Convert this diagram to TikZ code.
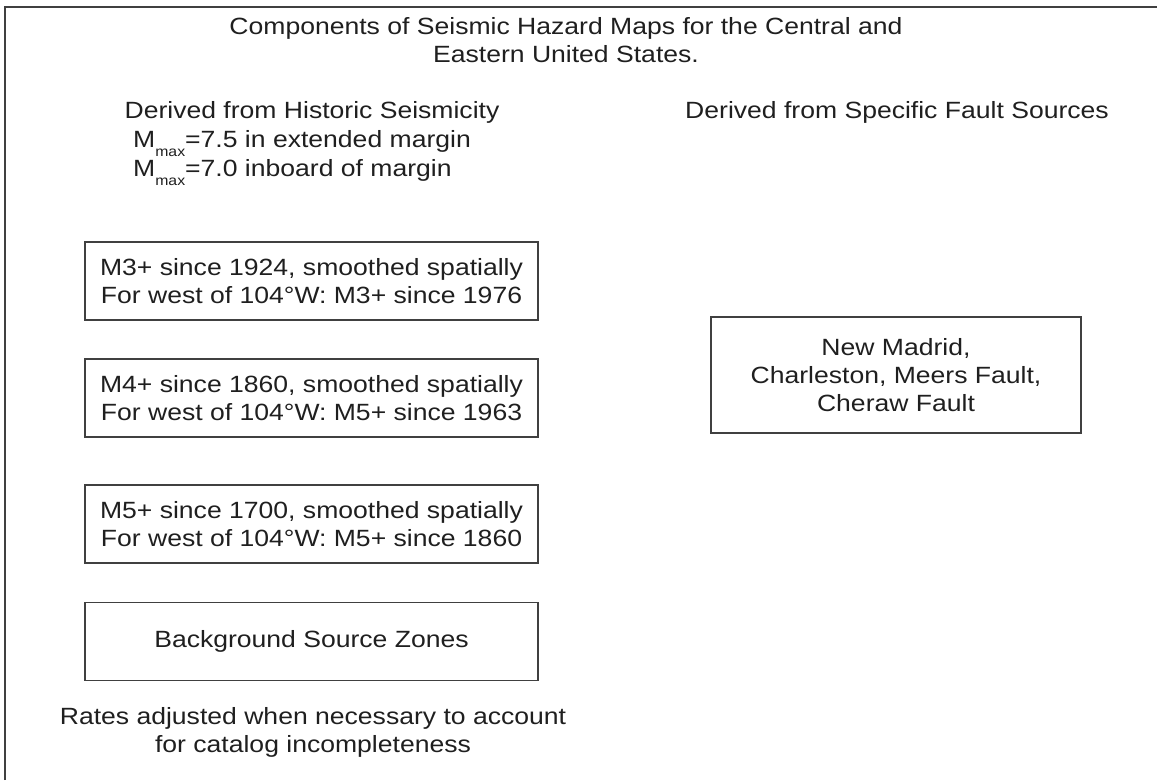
\documentclass[tikz,border=0pt]{standalone}
\usepackage{fontspec}
\setmainfont[FakeStretch=1.13]{Liberation Sans}
\tikzset{
  txt/.style={align=center, text=black!88, font=\fontsize{23.5}{28}\selectfont, inner sep=0pt},
  srcbox/.style={txt, draw=black!75, line width=1.2pt, minimum width=453pt, minimum height=78pt},
}
\newcommand{\Mmax}{M\raisebox{-0.4em}{\fontsize{14}{14}\selectfont max}}
\begin{document}
\begin{tikzpicture}[x=1pt,y=-1pt]
  \useasboundingbox (0,0) rectangle (1157,780);
  \draw[line width=1.2pt,black!75] (5,780) -- (5,7) -- (1157,7);

  \node[txt] (title) at (566,40) {Components of Seismic Hazard Maps for the Central and\\Eastern United States.};

  \node[txt] (hist) at (312,112) {Derived from Historic Seismicity};
  \node[txt] (fault) at (897,112) {Derived from Specific Fault Sources};
  \node[txt, align=left, anchor=west, font=\fontsize{23.5}{29}\selectfont] (mmax) at (133,158) {\Mmax=7.5 in extended margin\\\Mmax=7.0 inboard of margin};

  \node[srcbox] (m3) at (311.5,281) {M3+ since 1924, smoothed spatially\\For west of 104°W: M3+ since 1976};
  \node[srcbox] (m4) at (311.5,398) {M4+ since 1860, smoothed spatially\\For west of 104°W: M5+ since 1963};
  \node[srcbox] (m5) at (311.5,524) {M5+ since 1700, smoothed spatially\\For west of 104°W: M5+ since 1860};
  \node[srcbox] (bg) at (311.5,641.5) {Background Source Zones};

  \node[txt] (rates) at (313,732) {Rates adjusted when necessary to account\\for catalog incompleteness};

  \node[srcbox, minimum width=370pt, minimum height=116pt] (madrid) at (896,375) {New Madrid,\\Charleston, Meers Fault,\\Cheraw Fault};
\end{tikzpicture}
\end{document}
